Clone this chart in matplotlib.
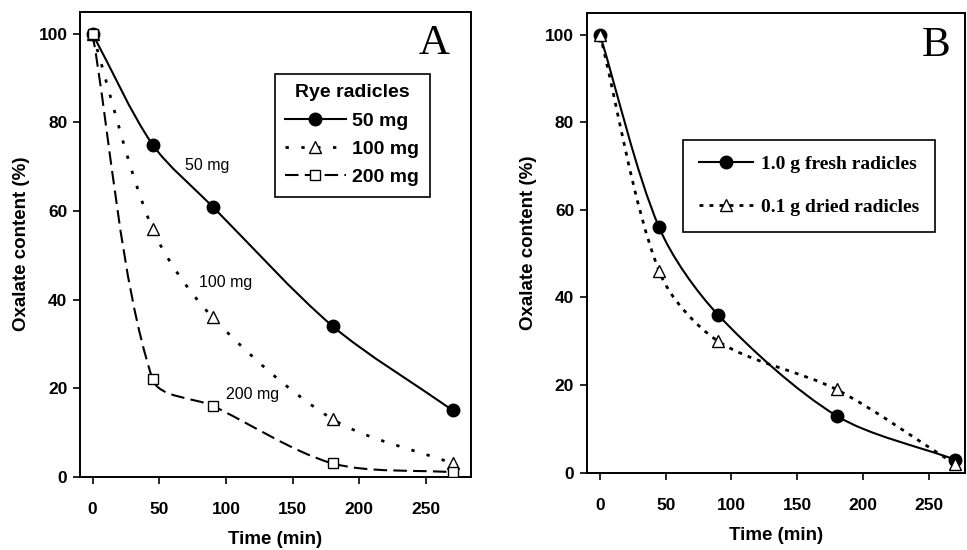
import matplotlib
matplotlib.use("Agg")
import numpy as np
import matplotlib.pyplot as plt
from matplotlib.path import Path
from matplotlib.patches import PathPatch
from matplotlib.lines import Line2D

plt.rcParams['font.family'] = ['Liberation Sans', 'DejaVu Sans']

time = [0, 45, 90, 180, 270]

# panel A - rye radicles
rye_50 = [100, 75, 61, 34, 15]
rye_100 = [100, 56, 36, 13, 3]
rye_200 = [100, 22, 16, 3, 1]

# panel B
fresh_1g = [100, 56, 36, 13, 3]
dried_01g = [100, 46, 30, 19, 2]

xticks = [0, 50, 100, 150, 200, 250]
yticks = [0, 20, 40, 60, 80, 100]


def smooth_curve(ax, xs, ys, k=0.3, **kw):
    """
    Draws a smoothed line through the points, the way spreadsheet charts do it.
    Tangents are worked out in screen space, the path itself is in data space.
    """
    pix = ax.transData.transform(np.column_stack([xs, ys]))
    n = len(pix)
    tang = []
    for i in range(n):
        a = pix[max(i - 1, 0)]
        b = pix[min(i + 1, n - 1)]
        d = b - a
        tang.append(d / np.hypot(*d))
    verts = [pix[0]]
    codes = [Path.MOVETO]
    for i in range(n - 1):
        L = np.hypot(*(pix[i + 1] - pix[i]))
        verts += [pix[i] + tang[i] * L * k, pix[i + 1] - tang[i + 1] * L * k, pix[i + 1]]
        codes += [Path.CURVE4] * 3
    verts = ax.transData.inverted().transform(np.array(verts))
    ax.add_patch(PathPatch(Path(verts, codes), fill=False, **kw))


def style_axes(ax, xmin, xmax):
    ax.set_xlim(xmin, xmax)
    ax.set_ylim(0, 105)
    ax.set_xticks(xticks)
    ax.set_yticks(yticks)
    for s in ax.spines.values():
        s.set_linewidth(1.4)
    ax.tick_params(axis='both', direction='out', length=5, width=1.2, labelsize=12.5)
    ax.tick_params(axis='x', pad=13)
    ax.tick_params(axis='y', pad=4)
    for lab in ax.get_xticklabels() + ax.get_yticklabels():
        lab.set_fontweight('bold')
    ax.set_xlabel("Time (min)", fontsize=13.5, fontweight='bold', labelpad=10)
    ax.set_ylabel("Oxalate content (%)", fontsize=13.5, fontweight='bold', labelpad=6)


fig = plt.figure(figsize=(9.67, 5.5), dpi=100)
axA = fig.add_axes([0.0827, 0.1333, 0.404, 0.8455])
axB = fig.add_axes([0.6067, 0.1405, 0.391, 0.8364])
style_axes(axA, -9.4, 283.5)
style_axes(axB, -10.1, 277.6)

dots_A = (0, (1.2, 4.5))
dash_A = (0, (6.5, 3))
dots_B = (0, (1.4, 2.2))

# ---- panel A
smooth_curve(axA, time, rye_50, color='black', lw=1.5, linestyle='-', zorder=2)
smooth_curve(axA, time, rye_100, color='black', lw=2, linestyle=dots_A, zorder=2)
smooth_curve(axA, time, rye_200, color='black', lw=1.5, linestyle=dash_A, zorder=2)
axA.plot(time, rye_50, 'o', color='black', ms=9, ls='none', zorder=3)
axA.plot(time, rye_100, '^', mfc='white', mec='black', ms=9, mew=1, ls='none', zorder=3)
axA.plot(time, rye_200, 's', mfc='white', mec='black', ms=7.5, mew=1, ls='none', zorder=4)

axA.text(85.8, 70.3, "50 mg", fontsize=11.5, ha='center', va='center')
axA.text(99.8, 43.9, "100 mg", fontsize=11.5, ha='center', va='center')
axA.text(119.8, 18.6, "200 mg", fontsize=11.5, ha='center', va='center')
axA.text(256, 97.7, "A", fontsize=31, family='Liberation Serif', ha='center', va='center')

handlesA = [
    Line2D([], [], color='black', lw=1.5, marker='o', ms=9),
    Line2D([], [], color='black', lw=2, ls=dots_A, marker='^', ms=9, mfc='white', mew=1),
    Line2D([], [], color='black', lw=1.5, ls=dash_A, marker='s', ms=7.5, mfc='white', mew=1),
]
legA = axA.legend(handlesA, ["50 mg", "100 mg", "200 mg"], title="Rye radicles",
                  loc='upper right', bbox_to_anchor=(0.896, 0.867), fancybox=False,
                  edgecolor='black', framealpha=1, handlelength=3.1,
                  prop={'size': 14, 'weight': 'bold'},
                  title_fontproperties={'size': 14, 'weight': 'bold'},
                  borderpad=0.55, labelspacing=0.55, handletextpad=0.35,
                  borderaxespad=0)
legA.get_frame().set_linewidth(1.2)

# ---- panel B
smooth_curve(axB, time, fresh_1g, color='black', lw=1.5, linestyle='-', zorder=2)
smooth_curve(axB, time, dried_01g, color='black', lw=2, linestyle=dots_B, zorder=2)
axB.plot(time, fresh_1g, 'o', color='black', ms=9, ls='none', zorder=3)
axB.plot(time, dried_01g, '^', mfc='white', mec='black', ms=9, mew=1, ls='none', zorder=4)
axB.text(256, 97.5, "B", fontsize=31, family='Liberation Serif', ha='center', va='center')

handlesB = [
    Line2D([], [], color='black', lw=1.5, marker='o', ms=9),
    Line2D([], [], color='black', lw=2, ls=dots_B, marker='^', ms=9, mfc='white', mew=1),
]
legB = axB.legend(handlesB, ["1.0 g fresh radicles", "0.1 g dried radicles"],
                  loc='upper right', bbox_to_anchor=(0.921, 0.723), fancybox=False,
                  edgecolor='black', framealpha=1, handlelength=2.8,
                  prop={'size': 14, 'weight': 'bold', 'family': 'Liberation Serif'},
                  borderpad=0.8, labelspacing=1.3, handletextpad=0.4,
                  borderaxespad=0)
legB.get_frame().set_linewidth(1.2)

fig.savefig("out.png", dpi=100)
